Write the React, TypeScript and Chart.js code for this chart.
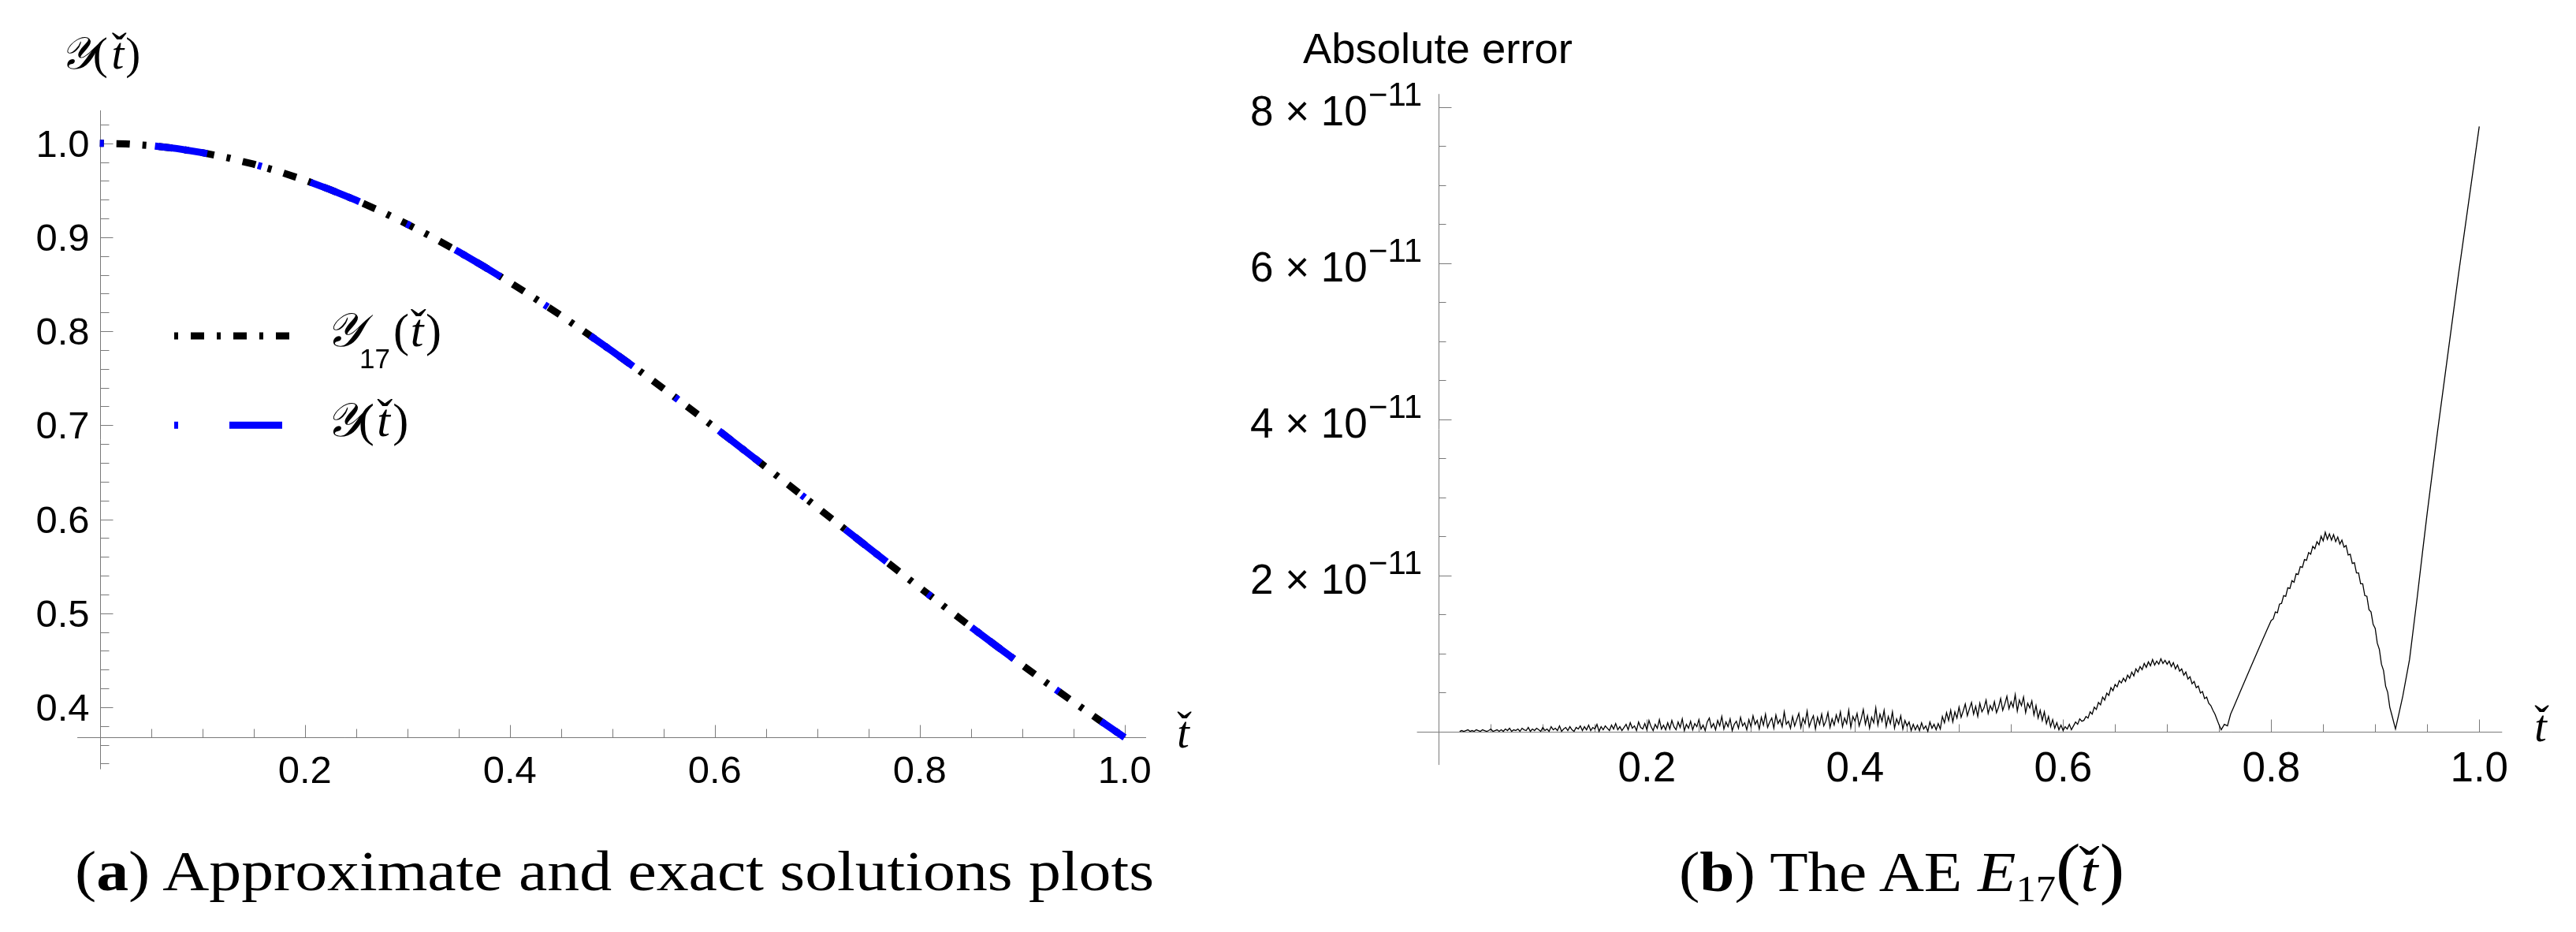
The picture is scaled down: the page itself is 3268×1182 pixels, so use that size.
import React, { useEffect, useRef } from "react";
import { Chart, registerables } from "chart.js";

Chart.register(...registerables);

// ---------------- Panel (a): approximate and exact solutions ----------------
const solutionT = [
  0, 0.025, 0.05, 0.075, 0.1, 0.125, 0.15, 0.175, 0.2, 0.225, 0.25, 0.275, 0.3, 0.325, 0.35, 0.375, 0.4,
  0.425, 0.45, 0.475, 0.5, 0.525, 0.55, 0.575, 0.6, 0.625, 0.65, 0.675, 0.7, 0.725, 0.75, 0.775, 0.8,
  0.825, 0.85, 0.875, 0.9, 0.925, 0.95, 0.975, 1.0,
];
const approxY17 = [
  1.0, 0.9994, 0.9975, 0.9944, 0.99, 0.9845, 0.9778, 0.9698, 0.9608, 0.9506, 0.9394, 0.9272, 0.9139,
  0.8998, 0.8847, 0.8688, 0.8521, 0.8347, 0.8167, 0.798, 0.7788, 0.7591, 0.739, 0.7184, 0.6977, 0.6766,
  0.6554, 0.6341, 0.6126, 0.5912, 0.5698, 0.5485, 0.5273, 0.5063, 0.4855, 0.4651, 0.4449, 0.425, 0.4057,
  0.3865, 0.3679,
];
const exactY = [
  1.0, 0.9994, 0.9975, 0.9944, 0.99, 0.9845, 0.9778, 0.9698, 0.9608, 0.9506, 0.9394, 0.9272, 0.9139,
  0.8998, 0.8847, 0.8688, 0.8521, 0.8347, 0.8167, 0.798, 0.7788, 0.7591, 0.739, 0.7184, 0.6977, 0.6766,
  0.6554, 0.6341, 0.6126, 0.5912, 0.5698, 0.5485, 0.5273, 0.5063, 0.4855, 0.4651, 0.4449, 0.425, 0.4057,
  0.3865, 0.3679,
];
const aXTickValues = [0.2, 0.4, 0.6, 0.8, 1.0];
const aXTickLabels = ["0.2", "0.4", "0.6", "0.8", "1.0"];
const aYTickValues = [0.4, 0.5, 0.6, 0.7, 0.8, 0.9, 1.0];
const aYTickLabels = ["0.4", "0.5", "0.6", "0.7", "0.8", "0.9", "1.0"];
const aSeriesNames = ["Y17(t)", "Y(t)"];

// ---------------- Panel (b): absolute error, values in units of 1e-11 ----------------
const errStartA = 0.02;
const errStepA = 0.002;
const errNoisyA = [
  0.0, 0.01, 0.0, 0.01, 0.02, 0.0, 0.01, 0.0, 0.02, 0.01, 0.0, 0.02, 0.01, 0.0, 0.01, 0.03, 0.0, 0.01, 0.02, 0.0,
  0.02, 0.0, 0.03, 0.01, 0.04, 0.0, 0.02, 0.01, 0.03, 0.0, 0.04, 0.02, 0.01, 0.05, 0.0, 0.03, 0.01, 0.04, 0.02, 0.0,
  0.05, 0.01, 0.03, 0.0, 0.06, 0.02, 0.04, 0.01, 0.07, 0.0, 0.03, 0.05, 0.01, 0.06, 0.02, 0.0, 0.05, 0.03, 0.07, 0.01,
  0.06, 0.02, 0.08, 0.01, 0.05, 0.03, 0.09, 0.0, 0.06, 0.02, 0.07, 0.04, 0.01, 0.08, 0.03, 0.1, 0.02, 0.06, 0.01, 0.05,
  0.09, 0.02, 0.11, 0.04, 0.07, 0.01, 0.12, 0.05, 0.03, 0.1, 0.02, 0.14, 0.06, 0.01, 0.09, 0.04, 0.15, 0.03, 0.08, 0.02,
  0.11, 0.03, 0.14, 0.06, 0.02, 0.12, 0.05, 0.16, 0.01, 0.09, 0.04, 0.13, 0.02, 0.1, 0.06, 0.15, 0.03, 0.08, 0.01, 0.12,
  0.17, 0.05, 0.1, 0.02, 0.14, 0.07, 0.19, 0.03, 0.12, 0.06, 0.16, 0.01, 0.09, 0.13, 0.04, 0.18, 0.07, 0.11, 0.02, 0.15,
  0.06, 0.2, 0.09, 0.14, 0.03, 0.18, 0.08, 0.22, 0.05, 0.12, 0.17, 0.04, 0.21, 0.1, 0.15, 0.06, 0.25, 0.09, 0.13, 0.04,
  0.19, 0.07, 0.15, 0.23, 0.05, 0.17, 0.1, 0.26, 0.06, 0.14, 0.2, 0.03, 0.18, 0.09, 0.22, 0.07, 0.13, 0.24, 0.05, 0.16,
  0.08, 0.21, 0.12, 0.25, 0.06, 0.17, 0.1, 0.27, 0.05, 0.19, 0.13, 0.23, 0.07, 0.16, 0.28, 0.09, 0.2, 0.04, 0.18, 0.11,
  0.3, 0.08, 0.22, 0.13, 0.27, 0.06, 0.19, 0.1, 0.25, 0.04, 0.16, 0.09, 0.2, 0.03, 0.14, 0.07, 0.12, 0.01, 0.09, 0.02,
  0.08, 0.01, 0.11, 0.03, 0.07, 0.0, 0.12, 0.04, 0.09, 0.02, 0.1, 0.03, 0.19, 0.11, 0.24, 0.14, 0.27, 0.12, 0.25, 0.17,
  0.31, 0.18, 0.26, 0.35, 0.2, 0.29, 0.37, 0.22, 0.32, 0.19, 0.36, 0.25, 0.3, 0.4, 0.23, 0.33, 0.27, 0.38, 0.24, 0.31,
  0.42, 0.27, 0.35, 0.45, 0.29, 0.38, 0.31, 0.47, 0.26, 0.4, 0.33, 0.44, 0.24, 0.36, 0.3, 0.39, 0.21, 0.33, 0.17, 0.27,
  0.14, 0.25, 0.1, 0.19, 0.06, 0.15, 0.04, 0.11, 0.02, 0.08, 0.01, 0.06, 0.03, 0.09, 0.02, 0.07, 0.12, 0.09, 0.16, 0.13,
  0.14, 0.19, 0.17, 0.25, 0.22, 0.31, 0.28, 0.37, 0.34, 0.44, 0.4, 0.49, 0.46, 0.56, 0.52, 0.6, 0.57, 0.65, 0.62, 0.68,
  0.64, 0.72, 0.68, 0.76, 0.71, 0.8, 0.76, 0.83, 0.79, 0.87, 0.82, 0.89, 0.84, 0.92, 0.85, 0.9, 0.86, 0.93, 0.87, 0.91,
  0.86, 0.9, 0.83, 0.88, 0.8, 0.85, 0.77, 0.8, 0.72, 0.76, 0.67, 0.7, 0.61, 0.64, 0.56, 0.58, 0.49, 0.51, 0.42, 0.44,
  0.36, 0.33, 0.27, 0.22, 0.15, 0.08, 0.02,
];
const errMidT = [0.755, 0.758, 0.761, 0.764, 0.77, 0.78, 0.79, 0.796];
const errMidV = [0.09, 0.07, 0.22, 0.31, 0.5, 0.81, 1.12, 1.3];
const errStartB = 0.8;
const errStepB = 0.002;
const errNoisyB = [
  1.42, 1.44, 1.53, 1.52, 1.63, 1.64, 1.74, 1.73, 1.84, 1.83, 1.93, 1.91, 2.02, 2.01, 2.11, 2.1, 2.2, 2.19, 2.29, 2.27,
  2.37, 2.34, 2.43, 2.39, 2.5, 2.44, 2.55, 2.46, 2.53, 2.45, 2.52, 2.43, 2.49, 2.4, 2.45, 2.36, 2.38, 2.26, 2.27, 2.15,
  2.16, 2.03, 2.03, 1.89, 1.89, 1.74, 1.73, 1.56, 1.53, 1.37, 1.32, 1.13, 1.05, 0.86, 0.78, 0.58, 0.5, 0.31, 0.21,
];
const errTailT = [0.9195, 0.923, 0.9265, 0.933, 0.9405, 0.9455, 0.95, 0.96, 0.97, 0.98, 0.99, 1.0];
const errTailV = [0.03, 0.24, 0.45, 0.92, 1.73, 2.3, 2.8, 3.85, 4.85, 5.85, 6.8, 7.75];
const bXTickValues = [0.2, 0.4, 0.6, 0.8, 1.0];
const bXTickLabels = ["0.2", "0.4", "0.6", "0.8", "1.0"];
const bYTickValues = [2, 4, 6, 8];
const bYTickMantissas = ["2", "4", "6", "8"];
const bYTickExponent = "\u221211";

// ---------------- layout ----------------
const PAGE_W = 3268;
const PAGE_H = 1182;
const SERIF = "'Liberation Serif', 'Times New Roman', serif";
const SANS = "'Liberation Sans', Arial, sans-serif";
const SCRIPT = "'DejaVu Serif', 'DejaVu Sans', 'Noto Sans', serif";
const AXIS_COLOR = "#7a7a7a";

const A_CANVAS = { left: 0, top: 0, width: 1560, height: 1010 };
const A_AREA = { left: 98.1, top: 140, right: 1454, bottom: 975.6 };
const A_RANGE = { xMin: -0.022, xMax: 1.021, yMin: 0.334, yMax: 1.035 };
const A_XAXIS_AT = 0.3679;

const B_CANVAS = { left: 1560, top: 0, width: 1708, height: 1010 };
const B_AREA = { left: 1797.6, top: 119.2, right: 3174.3, bottom: 970.1 };
const B_RANGE = { xMin: -0.021, xMax: 1.022, yMin: -0.43, yMax: 8.165 };
const B_XAXIS_AT = 0;

function paddingFor(canvas: any, area: any) {
  return {
    left: area.left - canvas.left,
    top: area.top - canvas.top,
    right: canvas.left + canvas.width - area.right,
    bottom: canvas.top + canvas.height - area.bottom,
  };
}

const mmaAxesPlugin = {
  id: "mmaAxes",
  beforeDatasetsDraw(chart: any, _args: any, o: any) {
    const { ctx, chartArea } = chart;
    const xs = chart.scales.x;
    const ys = chart.scales.y;
    const crisp = (v: number) => Math.round(v) + 0.5;
    const ox = crisp(xs.getPixelForValue(0));
    const oy = crisp(ys.getPixelForValue(o.xAxisAt));
    ctx.save();
    ctx.strokeStyle = AXIS_COLOR;
    ctx.lineWidth = 1;
    ctx.setLineDash([]);
    ctx.beginPath();
    ctx.moveTo(chartArea.left, oy);
    ctx.lineTo(chartArea.right, oy);
    ctx.moveTo(ox, chartArea.top);
    ctx.lineTo(ox, chartArea.bottom);
    for (let k = 1; k * o.xMinorStep <= xs.max + 1e-9; k++) {
      const px = crisp(xs.getPixelForValue(k * o.xMinorStep));
      const len = k % o.xMajorEvery === 0 ? o.majorLen : o.xMinorLen;
      ctx.moveTo(px, oy);
      ctx.lineTo(px, oy - len);
    }
    const kMin = Math.ceil(ys.min / o.yMinorStep - 1e-9);
    const kMax = Math.floor(ys.max / o.yMinorStep + 1e-9);
    for (let k = kMin; k <= kMax; k++) {
      const v = k * o.yMinorStep;
      if (Math.abs(v - o.xAxisAt) < 1e-9) continue;
      const py = crisp(ys.getPixelForValue(v));
      const len = k % o.yMajorEvery === 0 ? o.majorLen : o.yMinorLen;
      ctx.moveTo(ox, py);
      ctx.lineTo(ox + len, py);
    }
    ctx.stroke();

    ctx.fillStyle = "#000";
    ctx.textBaseline = "alphabetic";
    ctx.font = `${o.xFont}px ${SANS}`;
    ctx.textAlign = "center";
    o.xTickValues.forEach((v: number, i: number) => {
      ctx.fillText(o.xTickLabels[i], xs.getPixelForValue(v), oy + o.xLabelBaseline);
    });
    if (o.sci) {
      o.yTickValues.forEach((v: number, i: number) => {
        const py = ys.getPixelForValue(v);
        ctx.textAlign = "left";
        ctx.font = `${o.expFont}px ${SANS}`;
        const me = ctx.measureText(o.yExponent);
        const xe = ox - o.sciGap - me.actualBoundingBoxRight;
        const expInkLeft = xe - me.actualBoundingBoxLeft;
        ctx.fillText(o.yExponent, xe, py + o.expBaseline);
        ctx.font = `${o.yFont}px ${SANS}`;
        const mainStr = `${o.yTickLabels[i]} \u00d7 10`;
        const mm = ctx.measureText(mainStr);
        const xm = expInkLeft - o.expGap - mm.actualBoundingBoxRight;
        ctx.fillText(mainStr, xm, py + o.yLabelBaseline);
      });
    } else {
      ctx.font = `${o.yFont}px ${SANS}`;
      ctx.textAlign = "right";
      o.yTickValues.forEach((v: number, i: number) => {
        ctx.fillText(o.yTickLabels[i], ox - o.yLabelGap, ys.getPixelForValue(v) + o.yLabelBaseline);
      });
    }
    ctx.restore();
  },
  afterDatasetsDraw(chart: any, _args: any, o: any) {
    if (!o.legend) return;
    const { ctx } = chart;
    ctx.save();
    o.legend.forEach((item: any) => {
      const ds = chart.data.datasets[item.dataset];
      ctx.strokeStyle = ds.borderColor;
      ctx.lineWidth = ds.borderWidth;
      ctx.lineCap = "butt";
      ctx.setLineDash(ds.borderDash || []);
      ctx.lineDashOffset = 0;
      ctx.beginPath();
      ctx.moveTo(item.x0, item.y);
      ctx.lineTo(item.x1, item.y);
      ctx.stroke();
    });
    ctx.restore();
  },
};

function buildConfigA(): any {
  return {
    type: "line",
    data: {
      datasets: [
        {
          label: aSeriesNames[0],
          data: solutionT.map((t, i) => ({ x: t, y: approxY17[i] })),
          borderColor: "#000000",
          borderWidth: 9,
          borderDash: [5, 16, 17, 16],
          pointRadius: 0,
          fill: false,
          tension: 0,
          order: 1,
        },
        {
          label: aSeriesNames[1],
          data: solutionT.map((t, i) => ({ x: t, y: exactY[i] })),
          borderColor: "#0000ff",
          borderWidth: 9,
          borderDash: [5, 65, 67, 66],
          pointRadius: 0,
          fill: false,
          tension: 0,
          order: 0,
        },
      ],
    },
    options: {
      animation: false,
      responsive: false,
      events: [],
      layout: { padding: paddingFor(A_CANVAS, A_AREA) },
      scales: {
        x: { type: "linear", min: A_RANGE.xMin, max: A_RANGE.xMax, display: false },
        y: { type: "linear", min: A_RANGE.yMin, max: A_RANGE.yMax, display: false },
      },
      plugins: {
        legend: { display: false },
        tooltip: { enabled: false },
        mmaAxes: {
          xAxisAt: A_XAXIS_AT,
          xMinorStep: 0.05,
          xMajorEvery: 4,
          yMinorStep: 0.02,
          yMajorEvery: 5,
          majorLen: 16,
          xMinorLen: 11,
          yMinorLen: 11,
          xTickValues: aXTickValues,
          xTickLabels: aXTickLabels,
          yTickValues: aYTickValues,
          yTickLabels: aYTickLabels,
          xFont: 49,
          yFont: 49,
          xLabelBaseline: 57,
          yLabelGap: 14,
          yLabelBaseline: 17,
          legend: [
            { dataset: 0, x0: 221, x1: 369, y: 426 },
            { dataset: 1, x0: 221, x1: 369, y: 539.3 },
          ],
        },
      },
    },
    plugins: [mmaAxesPlugin],
  };
}

function buildErrorPoints() {
  const pts: { x: number; y: number }[] = [];
  errNoisyA.forEach((v, i) => pts.push({ x: errStartA + i * errStepA, y: v }));
  errMidT.forEach((t, i) => pts.push({ x: t, y: errMidV[i] }));
  errNoisyB.forEach((v, i) => pts.push({ x: errStartB + i * errStepB, y: v }));
  errTailT.forEach((t, i) => pts.push({ x: t, y: errTailV[i] }));
  return pts;
}

function buildConfigB(): any {
  return {
    type: "line",
    data: {
      datasets: [
        {
          label: "Absolute error",
          data: buildErrorPoints(),
          borderColor: "#000000",
          borderWidth: 1.3,
          pointRadius: 0,
          fill: false,
          tension: 0,
        },
      ],
    },
    options: {
      animation: false,
      responsive: false,
      events: [],
      layout: { padding: paddingFor(B_CANVAS, B_AREA) },
      scales: {
        x: { type: "linear", min: B_RANGE.xMin, max: B_RANGE.xMax, display: false },
        y: { type: "linear", min: B_RANGE.yMin, max: B_RANGE.yMax, display: false },
      },
      plugins: {
        legend: { display: false },
        tooltip: { enabled: false },
        mmaAxes: {
          xAxisAt: B_XAXIS_AT,
          xMinorStep: 0.05,
          xMajorEvery: 4,
          yMinorStep: 0.5,
          yMajorEvery: 4,
          majorLen: 16,
          xMinorLen: 10,
          yMinorLen: 9,
          xTickValues: bXTickValues,
          xTickLabels: bXTickLabels,
          yTickValues: bYTickValues,
          yTickLabels: bYTickMantissas,
          yExponent: bYTickExponent,
          sci: true,
          xFont: 53,
          yFont: 53,
          expFont: 42,
          xLabelBaseline: 62,
          yLabelBaseline: 23.7,
          expBaseline: -1.3,
          sciGap: 22.7,
          expGap: 4.7,
        },
      },
    },
    plugins: [mmaAxesPlugin],
  };
}

function TCheck({ cx, y, fs }: { cx: number; y: number; fs: number }) {
  return (
    <>
      <text x={cx} y={y} fontSize={fs} fontFamily={SERIF} fontStyle="italic" textAnchor="middle">
        t
      </text>
      <text x={cx + fs * 0.03} y={y - fs * 0.1} fontSize={fs} fontFamily={SERIF} textAnchor="middle">
        {"\u02c7"}
      </text>
    </>
  );
}

function Overlay() {
  return (
    <svg
      width={PAGE_W}
      height={PAGE_H}
      style={{ position: "absolute", left: 0, top: 0, pointerEvents: "none" }}
    >
      {/* panel (a) y-axis title */}
      <text x={76} y={86.8} fontSize={57} fontFamily={SCRIPT} fontStyle="italic">{"\ud835\udcb4"}</text>
      <text x={117.7} y={86.8} fontSize={57} fontFamily={SERIF}>(</text>
      <TCheck cx={149.5} y={86.8} fs={57} />
      <text x={159.3} y={86.8} fontSize={57} fontFamily={SERIF}>)</text>

      {/* legend entry 1 */}
      <text x={413} y={438.6} fontSize={60} fontFamily={SCRIPT} fontStyle="italic">{"\ud835\udcb4"}</text>
      <text x={456} y={467} fontSize={35} fontFamily={SANS}>17</text>
      <text x={499} y={438.6} fontSize={60} fontFamily={SERIF}>(</text>
      <TCheck cx={529} y={438.6} fs={60} />
      <text x={540} y={438.6} fontSize={60} fontFamily={SERIF}>)</text>

      {/* legend entry 2 */}
      <text x={413} y={553.4} fontSize={60} fontFamily={SCRIPT} fontStyle="italic">{"\ud835\udcb4"}</text>
      <text x={454.7} y={553.4} fontSize={60} fontFamily={SERIF}>(</text>
      <TCheck cx={486.5} y={553.4} fs={60} />
      <text x={498.3} y={553.4} fontSize={60} fontFamily={SERIF}>)</text>

      {/* x-axis labels */}
      <TCheck cx={1501} y={948} fs={56} />
      <TCheck cx={3223} y={940} fs={56} />

      {/* panel (b) y-axis title */}
      <text x={1653} y={80} fontSize={53} fontFamily={SANS} textLength={342} lengthAdjust="spacingAndGlyphs">
        Absolute error
      </text>

      {/* captions */}
      <text x={95} y={1129} fontSize={72} fontFamily={SERIF} textLength={1369} lengthAdjust="spacingAndGlyphs">
        (<tspan fontWeight="bold">a</tspan>) Approximate and exact solutions plots
      </text>
      <g transform="translate(2130,0) scale(1.1,1) translate(-2130,0)">
        <text x={2130} y={1130} fontSize={72} fontFamily={SERIF}>
          (<tspan fontWeight="bold">b</tspan>) The AE <tspan fontStyle="italic">E</tspan>
          <tspan fontSize={46} dy={13}>17</tspan>
          <tspan fontSize={86} dy={-13}>(</tspan>
          <tspan fontStyle="italic">t</tspan>
          <tspan dx={-22} dy={-7}>{"\u02c7"}</tspan>
          <tspan fontSize={86} dy={7}>)</tspan>
        </text>
      </g>
    </svg>
  );
}

export default function App() {
  const aRef = useRef<HTMLCanvasElement | null>(null);
  const bRef = useRef<HTMLCanvasElement | null>(null);

  useEffect(() => {
    const charts: Chart[] = [];
    if (aRef.current) charts.push(new Chart(aRef.current, buildConfigA()));
    if (bRef.current) charts.push(new Chart(bRef.current, buildConfigB()));
    return () => charts.forEach((c) => c.destroy());
  }, []);

  return (
    <div
      style={{
        position: "absolute",
        left: 0,
        top: 0,
        width: PAGE_W,
        height: PAGE_H,
        background: "#ffffff",
        overflow: "hidden",
      }}
    >
      <canvas
        ref={aRef}
        width={A_CANVAS.width}
        height={A_CANVAS.height}
        style={{ position: "absolute", left: A_CANVAS.left, top: A_CANVAS.top, width: A_CANVAS.width, height: A_CANVAS.height }}
      />
      <canvas
        ref={bRef}
        width={B_CANVAS.width}
        height={B_CANVAS.height}
        style={{ position: "absolute", left: B_CANVAS.left, top: B_CANVAS.top, width: B_CANVAS.width, height: B_CANVAS.height }}
      />
      <Overlay />
    </div>
  );
}
